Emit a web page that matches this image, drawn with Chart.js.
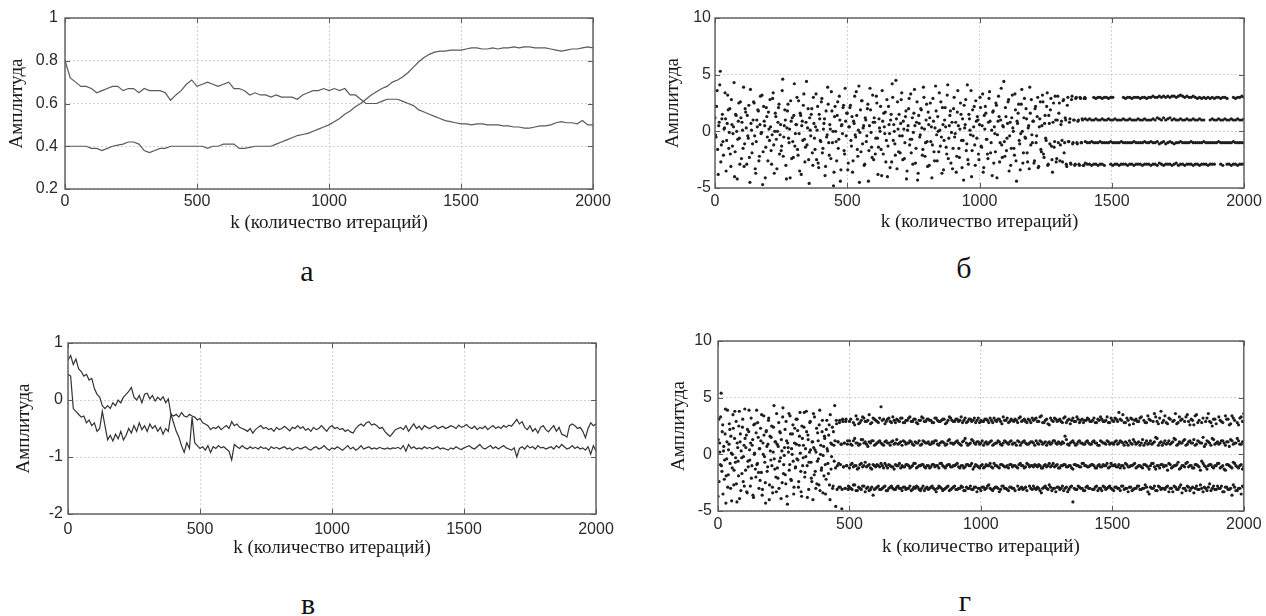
<!DOCTYPE html>
<html><head><meta charset="utf-8">
<script src="https://cdn.jsdelivr.net/npm/chart.js@4.4.0/dist/chart.umd.min.js"></script>
<style>
body{margin:0;width:1266px;height:616px;background:#fff;position:relative;overflow:hidden}
canvas{position:absolute}
.lbl{position:absolute;width:40px;text-align:center;font-family:"Liberation Serif","Times New Roman",serif;font-size:30px;line-height:30px;color:#111}
</style></head><body>
<canvas id="ca"></canvas><canvas id="cb"></canvas><canvas id="cv"></canvas><canvas id="cg"></canvas>
<div class="lbl" style="left:287px;top:256px">а</div>
<div class="lbl" style="left:944px;top:253px">б</div>
<div class="lbl" style="left:288px;top:589px">в</div>
<div class="lbl" style="left:945px;top:586px">г</div>
<script>
// ---------- tick labels ----------
const kTicks = [0, 500, 1000, 1500, 2000];
const yTicksA = [0.2, 0.4, 0.6, 0.8, 1];
const yTicksB = [-5, 0, 5, 10];
const yTicksV = [-2, -1, 0, 1];
const yTicksG = [-5, 0, 5, 10];
const xTitle = 'k (количество итераций)';
const yTitle = 'Амплитуда';

// ---------- panel а: two lines, k = 0..2000 step 20 ----------
const aStep = 20;
const aUpper = [0.80,0.72,0.70,0.68,0.68,0.67,0.65,0.66,0.67,0.68,
0.68,0.66,0.67,0.67,0.65,0.67,0.66,0.66,0.66,0.65,
0.615,0.64,0.66,0.69,0.71,0.68,0.69,0.70,0.69,0.68,
0.69,0.70,0.67,0.67,0.66,0.64,0.65,0.64,0.64,0.63,
0.64,0.63,0.63,0.63,0.62,0.64,0.65,0.66,0.66,0.67,
0.66,0.67,0.66,0.67,0.64,0.64,0.62,0.60,0.60,0.60,
0.61,0.62,0.62,0.62,0.61,0.60,0.59,0.57,0.56,0.55,
0.54,0.53,0.52,0.515,0.51,0.505,0.505,0.50,0.505,0.505,
0.50,0.50,0.50,0.495,0.495,0.49,0.49,0.485,0.485,0.49,
0.495,0.495,0.50,0.51,0.515,0.51,0.51,0.505,0.52,0.50,
0.50];
const aLower = [0.40,0.40,0.40,0.40,0.40,0.39,0.39,0.38,0.39,0.40,
0.405,0.41,0.42,0.42,0.41,0.38,0.37,0.38,0.39,0.39,
0.40,0.40,0.40,0.40,0.40,0.40,0.40,0.39,0.40,0.40,
0.41,0.41,0.41,0.39,0.39,0.395,0.40,0.40,0.40,0.40,
0.41,0.42,0.43,0.44,0.45,0.455,0.46,0.47,0.48,0.49,
0.50,0.515,0.53,0.55,0.565,0.585,0.60,0.62,0.64,0.655,
0.67,0.68,0.70,0.71,0.725,0.745,0.77,0.795,0.815,0.83,
0.84,0.845,0.845,0.85,0.85,0.85,0.855,0.86,0.86,0.855,
0.855,0.86,0.855,0.86,0.86,0.865,0.86,0.865,0.865,0.86,
0.86,0.86,0.855,0.85,0.845,0.85,0.855,0.855,0.86,0.865,
0.86];

// ---------- panel в: two lines, k = 0..2000 step 10 ----------
const vStep = 10;
const vUpper = [0.70,0.78,0.62,0.72,0.55,0.50,0.42,0.45,0.35,0.38,
0.20,0.10,0.05,-0.10,-0.15,-0.10,-0.15,-0.05,-0.10,0.00,
-0.05,0.05,0.10,0.15,0.22,0.05,0.00,0.08,-0.05,0.10,
0.12,0.02,0.08,-0.02,0.05,0.00,0.06,-0.05,0.02,-0.25,
-0.28,-0.25,-0.30,-0.22,-0.28,-0.30,-0.25,-0.28,-0.30,-0.35,
-0.32,-0.40,-0.42,-0.45,-0.52,-0.48,-0.50,-0.46,-0.52,-0.48,
-0.45,-0.50,-0.38,-0.45,-0.42,-0.48,-0.50,-0.52,-0.55,-0.50,
-0.58,-0.52,-0.48,-0.45,-0.50,-0.48,-0.52,-0.50,-0.55,-0.48,
-0.52,-0.50,-0.46,-0.50,-0.54,-0.48,-0.50,-0.45,-0.50,-0.47,
-0.53,-0.50,-0.55,-0.48,-0.52,-0.50,-0.45,-0.50,-0.55,-0.48,
-0.45,-0.50,-0.48,-0.52,-0.50,-0.55,-0.52,-0.56,-0.58,-0.50,
-0.45,-0.42,-0.46,-0.40,-0.38,-0.44,-0.42,-0.45,-0.50,-0.48,
-0.55,-0.60,-0.64,-0.58,-0.52,-0.50,-0.48,-0.52,-0.45,-0.55,
-0.48,-0.42,-0.50,-0.46,-0.52,-0.45,-0.48,-0.50,-0.47,-0.45,
-0.50,-0.48,-0.46,-0.50,-0.48,-0.45,-0.47,-0.50,-0.44,-0.48,
-0.46,-0.43,-0.48,-0.50,-0.46,-0.52,-0.48,-0.50,-0.46,-0.52,
-0.48,-0.45,-0.50,-0.47,-0.50,-0.45,-0.48,-0.44,-0.46,-0.40,
-0.34,-0.42,-0.38,-0.48,-0.52,-0.45,-0.55,-0.50,-0.58,-0.48,
-0.45,-0.52,-0.56,-0.50,-0.45,-0.55,-0.48,-0.60,-0.62,-0.65,
-0.45,-0.42,-0.45,-0.50,-0.48,-0.55,-0.66,-0.50,-0.40,-0.45,
-0.42];
const vLower = [0.45,0.42,-0.15,-0.20,-0.25,-0.30,-0.28,-0.40,-0.35,-0.45,
-0.40,-0.55,-0.50,-0.20,-0.45,-0.70,-0.62,-0.72,-0.60,-0.68,
-0.55,-0.70,-0.62,-0.50,-0.58,-0.45,-0.55,-0.40,-0.52,-0.45,
-0.55,-0.42,-0.50,-0.45,-0.55,-0.48,-0.60,-0.50,-0.55,-0.25,
-0.40,-0.55,-0.65,-0.80,-0.92,-0.75,-0.85,-0.30,-0.75,-0.80,
-0.85,-0.82,-0.88,-0.80,-0.92,-0.82,-0.85,-0.80,-0.84,-0.82,
-0.86,-0.90,-1.05,-0.78,-0.82,-0.85,-0.80,-0.84,-0.86,-0.82,
-0.85,-0.83,-0.86,-0.82,-0.85,-0.84,-0.88,-0.82,-0.85,-0.83,
-0.86,-0.84,-0.82,-0.86,-0.84,-0.88,-0.85,-0.83,-0.86,-0.84,
-0.82,-0.86,-0.88,-0.84,-0.82,-0.86,-0.84,-0.80,-0.85,-0.88,
-0.84,-0.86,-0.82,-0.85,-0.88,-0.84,-0.80,-0.86,-0.83,-0.88,
-0.85,-0.80,-0.86,-0.84,-0.82,-0.86,-0.84,-0.86,-0.83,-0.85,
-0.86,-0.84,-0.86,-0.84,-0.85,-0.83,-0.86,-0.80,-0.90,-0.78,
-0.85,-0.82,-0.86,-0.84,-0.86,-0.82,-0.85,-0.83,-0.86,-0.84,
-0.82,-0.86,-0.84,-0.86,-0.88,-0.84,-0.86,-0.82,-0.85,-0.87,
-0.84,-0.82,-0.80,-0.84,-0.86,-0.82,-0.78,-0.84,-0.86,-0.83,
-0.80,-0.85,-0.82,-0.86,-0.83,-0.80,-0.84,-0.86,-0.88,-0.84,
-1.00,-0.85,-0.82,-0.86,-0.80,-0.84,-0.82,-0.86,-0.80,-0.84,
-0.83,-0.86,-0.84,-0.82,-0.86,-0.80,-0.84,-0.78,-0.82,-0.86,
-0.84,-0.80,-0.85,-0.82,-0.86,-0.84,-0.88,-0.82,-0.95,-0.80,
-0.90];

// ---------- panel б: scatter ----------
const bNoiseStep = 4;   // bNoise at k = 0,4,..; bNoise2 at k = 2,6,..
const bNoise = [1.2,-0.5,3.6,-3.8,0.8,5.3,-1.2,1.5,-2.1,0.3,1.1,-0.8,3.2,-1.5,2.0,-3.1,0.6,-0.2,4.3,-1.8,1.4,-4.2,0.9,-0.6,2.6,
-2.4,0.1,3.9,-1.1,1.7,-2.9,-0.4,2.3,-4.5,0.7,-1.9,1.0,2.5,-3.3,-0.9,0.4,1.8,-2.2,3.1,-0.1,-4.7,2.2,0.5,-1.4,1.3,
-2.6,0.2,2.8,-1.7,-0.3,3.4,-3.7,1.6,-0.7,0.0,2.1,-2.0,0.6,-1.3,4.6,-0.5,1.9,-3.0,0.3,2.4,-1.0,-4.1,0.9,1.2,-2.3,
4.2,-0.2,0.6,-1.6,2.7,-3.5,1.4,0.5,-0.8,3.3,-2.7,0.8,-1.2,2.0,-4.6,0.1,1.5,-1.9,3.0,-0.6,0.4,-2.5,2.2,-3.2,1.1,
-0.9,2.9,-1.5,0.7,-3.9,1.8,-0.3,2.4,-2.1,0.2,3.5,-1.0,-4.8,1.3,0.0,-2.6,2.6,-0.7,1.0,-3.4,0.6,2.1,-1.7,3.8,-0.4,
1.6,-2.8,0.4,2.3,-1.3,-3.6,0.9,3.1,-0.5,1.4,-2.2,4.0,-0.1,-1.8,2.7,0.3,-3.0,1.2,-0.9,2.0,-4.4,0.5,1.9,-1.4,3.2,
-2.5,0.8,-0.6,2.5,-3.8,1.1,0.0,-1.6,3.6,-2.0,0.4,1.7,-0.8,-4.0,2.2,-0.2,1.0,-2.7,3.0,0.6,-1.1,4.5,-3.3,0.2,1.5,
-1.9,2.8,-0.4,0.9,-2.4,1.3,-4.2,0.1,2.0,-1.2,3.3,-0.7,-2.9,1.6,0.5,-1.5,2.6,-3.7,0.7,-0.3,1.9,-2.1,3.9,0.2,-1.0,
2.4,-3.1,0.6,1.2,-0.9,-4.1,2.9,-1.8,0.3,1.8,-2.6,0.0,3.4,-1.3,-0.5,2.1,-3.4,1.0,0.4,-2.0,4.1,-0.6,1.4,-2.8,0.8,
-1.5,3.0,-0.2,-3.6,1.7,0.5,-2.3,2.5,-0.8,1.1,-4.3,0.3,2.8,-1.1,-2.5,1.5,0.1,3.6,-1.7,-0.4,2.2,-3.0,0.9,1.3,-2.0,
0.6,2.1,-1.4,3.3,-3.2,0.2,1.6,-0.7,-2.4,2.9,0.9,-1.0,-3.9,1.8,0.4,-1.8,2.3,-0.3,3.1,-2.7,1.0,-1.2,0.5,4.4,-2.2,
1.3,-0.6,2.6,-3.5,0.8,-1.5,3.2,0.0,-2.1,1.9,-4.4,0.7,2.4,-1.1,-0.2,3.7,-2.8,1.2,-0.5,2.0,-1.9,0.3,-3.3,1.6,2.8,
-1.0,0.9,-2.6,2.2,-0.4,3.0,-3.1,1.1,-1.6,0.5,2.6,-2.3,1.4,-0.8,3.4,-2.9,0.7,1.9,-1.3,-3.6,2.5,-0.9,1.0,-2.4,3.1,
1.6,-2.6,0.6,-0.8,2.7,-1.9,1.2,-2.9,2.3,-0.9,0.8,-2.8,2.8,-1.1,1.0,-3.0,2.9,-1.0,0.9,-2.9,3.0,-1.0,1.1,-3.0,2.9];
const bNoise2 = [-0.3,2.2,-1.6,0.5,4.1,-2.7,1.1,-0.9,0.2,3.4,-3.5,0.7,1.9,-0.1,-2.0,2.8,-1.3,0.4,-4.0,1.5,0.0,-0.7,2.5,-2.9,1.2,
0.8,-1.5,-3.1,2.0,0.3,1.4,-0.6,-2.3,3.7,0.1,-1.1,2.6,-0.4,-3.7,1.0,1.9,-2.6,0.6,-0.2,3.2,-1.8,0.9,-4.1,2.1,-0.5,
1.7,-0.8,0.4,-2.9,2.9,-1.2,0.0,1.3,-3.3,0.8,2.4,-0.3,-1.7,3.6,-2.2,0.5,1.0,-4.2,1.8,-0.6,0.2,2.7,-2.4,-0.9,1.4,
-1.3,0.6,3.0,-2.1,-0.2,1.6,-3.8,0.9,2.3,-0.7,-1.4,4.4,0.3,-2.5,1.2,-0.4,2.0,-3.0,0.7,-1.6,3.3,0.1,-2.8,1.5,-0.8,
2.6,-1.9,0.2,1.1,-3.1,-0.5,3.9,-1.0,0.6,-2.4,1.8,0.0,-3.6,2.2,-0.9,1.4,-1.5,3.1,-4.4,0.5,-0.2,2.3,-2.0,0.9,1.6,
-3.4,0.4,2.1,-0.8,1.3,-2.6,0.7,-0.3,3.5,-1.6,0.1,-4.5,1.9,2.7,-1.1,0.5,-2.9,1.0,-0.4,2.4,-1.7,3.8,-0.1,-2.3,0.8,
1.2,-2.0,3.1,-0.6,-1.4,0.3,2.2,-3.9,0.9,1.6,-0.2,-2.7,2.8,-1.3,0.6,-3.2,1.5,4.2,-0.8,0.0,-2.1,1.1,2.6,-1.8,-0.4,
0.7,3.4,-2.5,0.2,-1.0,1.8,-3.5,0.5,2.9,-0.7,-1.9,1.2,-0.1,3.7,-2.8,0.8,-4.3,1.4,-0.5,2.0,0.3,-1.6,3.0,-2.2,1.0,
-0.9,1.7,-3.0,2.5,0.4,-1.2,0.9,-2.6,4.0,-0.3,1.3,-1.8,0.1,2.6,-3.7,0.6,-0.8,2.1,-1.4,3.2,-2.4,0.5,1.8,-0.1,-3.3,
2.0,-0.5,0.8,-2.2,3.6,-1.5,0.2,1.5,-3.2,-0.8,2.3,0.6,-1.7,4.1,-2.9,1.1,-0.3,-4.0,1.9,0.4,-1.2,2.7,-0.6,1.0,-2.5,
3.0,-1.3,0.5,-3.6,1.4,2.2,-0.7,-2.0,0.8,3.5,-1.9,0.1,1.7,-2.8,-0.2,2.5,-4.1,0.9,1.3,-1.0,3.8,-2.3,0.4,-0.9,2.1,
-1.7,0.7,2.8,-0.4,-3.0,1.2,0.3,-1.5,3.3,-2.6,0.9,1.6,-0.8,-3.4,2.4,0.0,-1.9,2.9,-0.6,1.1,-2.7,0.5,3.9,-1.2,-0.3,
0.9,-2.8,2.0,-1.0,1.3,-3.2,0.4,2.6,-1.8,3.2,-2.0,0.7,-0.6,2.2,-3.0,1.4,-1.1,2.9,-2.5,0.8,-1.4,3.1,-2.7,1.0,-1.0,
2.5,-1.2,0.9,-2.7,2.8,-1.0,1.0,-3.1,3.0,-0.9,1.1,-2.9,3.1,-1.0,1.0,-2.9,3.0,-1.1,1.0,-3.0,2.9,-1.0,1.0,-3.0,3.0];
const bBandStart = 1400, bBandStep = 8;   // k = 1400..2000
const bBand3 = [2.9,null,null,null,3.0,2.9,3.0,3.0,2.9,3.0,
3.0,2.9,3.0,3.0,null,null,null,null,3.0,2.9,
3.0,3.0,2.9,3.0,3.0,3.0,2.9,3.0,3.0,2.9,
3.0,3.0,3.1,3.0,3.0,3.1,3.0,3.1,3.0,3.1,
3.0,3.1,3.1,3.0,3.1,3.2,3.1,3.0,3.1,3.0,
3.0,3.1,3.0,2.9,3.0,2.9,3.0,2.9,3.0,2.9,
3.0,2.9,3.0,3.0,2.9,3.0,3.0,2.9,null,null,
3.0,2.9,3.0,3.0,3.1,3.0];
const bBand1 = [1.1,1.0,1.1,1.0,1.0,1.1,1.0,1.0,1.1,1.0,
1.0,1.1,1.0,1.0,1.1,1.0,1.0,1.0,1.1,1.0,
1.0,1.1,1.0,1.0,1.0,1.1,1.0,1.0,1.1,1.0,
1.0,1.0,1.1,1.0,1.2,1.1,1.0,1.2,1.0,1.1,
1.2,1.0,1.1,1.0,1.0,1.1,1.0,1.0,1.1,1.0,
1.0,1.1,1.0,1.0,1.1,1.0,1.0,null,null,1.0,
1.1,1.0,1.0,1.1,1.0,1.0,1.1,1.0,1.0,1.1,
1.0,1.0,1.1,1.0,1.0,1.1];
const bBandM1 = [-0.9,-1.0,-1.0,-0.9,-1.0,-1.0,-1.0,-0.9,-1.0,-1.0,
-1.0,-1.0,-0.9,-1.0,-1.0,-1.0,-1.0,-0.9,-1.0,-1.0,
-1.0,-1.0,-1.0,-0.9,-1.0,-1.0,-1.0,-1.0,-0.9,-1.0,
-1.0,-0.9,-1.0,-1.0,-0.9,-1.1,-1.0,-0.9,-1.1,-1.0,
-0.9,-1.0,-1.1,-1.0,-1.0,-0.9,-1.0,-1.0,-1.0,-1.0,
-0.9,-1.0,-1.0,-1.0,-1.0,-1.0,-0.9,-1.0,-1.0,-1.0,
-1.0,-1.0,-1.0,-0.9,-1.0,-1.0,-1.0,-1.0,-1.0,-1.0,
-0.9,-1.0,-1.0,-1.0,-1.0,-1.0];
const bBandM3 = [-2.8,-2.9,-2.9,-3.0,-2.9,-2.9,-3.0,-2.9,-2.9,-3.0,
null,null,-2.9,-3.0,-2.9,-2.9,-3.0,-2.9,-2.9,-2.9,
-3.0,-2.9,-2.9,-3.0,-2.9,-2.9,-2.9,-3.0,-2.9,-2.9,
-2.9,-3.0,-2.9,-2.9,-3.0,-2.8,-2.9,-3.0,-2.9,-2.9,
-2.9,-3.0,-2.9,-2.8,-3.0,-2.9,-2.9,-3.0,-2.9,-2.9,
-2.9,-3.0,-2.9,-2.9,-3.0,-2.9,-2.9,-2.9,-3.0,-2.9,
-2.9,-2.9,null,null,-2.9,-3.0,null,-2.9,-2.9,-3.0,
-2.9,-2.9,-3.0,-2.9,-2.9,-2.9];

// ---------- panel г: scatter ----------
const gNoiseStep = 3;   // gNoise at k = 0,3,..; gNoise2 at k = 1,4,..
const gNoise = [-3.7,3.1,1.0,-0.9,5.4,-1.5,2.6,0.3,-2.2,1.8,-4.3,-0.4,3.9,-1.8,0.9,2.2,-3.0,0.1,-1.2,3.5,-2.7,1.4,-0.7,2.9,-4.2,
0.6,-1.9,3.8,1.1,-3.2,-0.3,2.4,-2.4,0.8,4.0,-1.4,1.7,-3.4,-0.6,2.0,0.4,-2.8,3.2,-1.0,1.3,-3.8,0.0,2.7,-2.0,3.9,
-0.8,1.5,-3.0,0.5,2.3,-1.6,-3.6,1.0,3.4,-0.2,-2.5,2.0,0.7,-1.1,3.0,-4.0,1.6,-0.5,2.5,-2.9,0.2,4.3,-1.3,1.1,-3.3,
0.9,-2.1,2.8,-0.6,1.9,-3.9,0.3,3.3,-1.7,-0.1,2.2,-2.6,1.2,-4.4,0.6,3.6,-0.9,1.8,-2.3,0.0,2.6,-3.5,1.0,-1.2,3.1,
-0.4,2.1,-2.9,0.8,3.7,-1.5,-3.7,1.4,-0.3,2.4,-2.0,0.5,3.8,-1.0,1.7,-3.1,0.2,2.9,-0.7,-2.4,1.1,3.6,-1.8,0.4,-3.0,
2.3,-0.6,1.2,-2.7,3.9,0.0,-1.4,2.0,-3.4,0.7,1.6,-0.9,-2.2,3.0,0.3,-1.7,2.6,-4.0,1.0,-0.2,2.4,-2.8,0.8,4.3,-1.2,
3.0,-3.1,1.1,-0.8,2.8,-2.9,0.9,-4.8,3.1,-1.1,1.0,-3.0,2.9,-1.0,0.9,-3.1];
const gNoise2 = [1.3,-2.4,0.2,3.3,-1.0,2.0,-3.5,0.7,-0.5,4.0,-1.9,1.1,-2.9,0.4,2.7,-0.8,1.6,-4.1,0.0,2.3,-1.4,3.8,-0.3,-2.6,1.0,
-0.6,2.5,-3.9,1.8,0.3,-1.7,3.1,-0.2,-2.8,1.4,0.6,-3.3,2.2,-1.1,3.9,-0.5,1.0,-2.1,0.8,-3.6,2.6,0.1,-1.3,1.9,-0.9,
2.8,-1.6,0.5,-2.3,1.2,3.5,-3.1,0.0,1.7,-0.7,-4.3,2.1,-1.5,0.9,3.2,-2.7,0.3,1.5,-1.0,-3.4,2.4,-0.4,1.1,-2.0,3.6,
-1.2,0.7,-3.0,2.0,-0.3,1.3,-2.5,4.1,-0.9,0.6,-1.8,2.9,-3.7,1.0,0.2,-1.4,3.4,-2.2,0.5,1.8,-0.6,-2.9,2.3,-1.1,0.9,
3.1,-0.5,-2.4,1.6,0.1,-3.3,2.5,-1.0,0.8,3.7,-1.6,-0.2,2.0,-3.8,1.3,-0.7,2.8,0.4,-2.1,1.1,-4.0,0.6,3.3,-1.5,0.2,
-2.6,1.9,-0.4,2.6,-3.2,0.8,-1.2,3.0,-0.1,-1.9,1.4,-3.5,2.2,0.5,-0.8,1.7,-2.7,3.5,-1.3,0.9,-3.0,2.0,-0.6,1.2,-4.6,
2.7,-1.0,1.1,-2.9,3.0,-0.9,0.9,-3.1,2.9,-1.1,1.0,-3.0,3.1,-1.0,1.2,-2.8];
const gBandStep = 10;   // *A arrays at k = 500..2000, *B arrays at k = 505..1995
const gBandStartA = 500, gBandStartB = 505;
const gBand3A = [2.9,null,2.6,3.1,2.8,3.3,2.9,3.0,2.7,3.2,
3.0,2.8,4.2,3.1,2.9,3.2,2.8,3.0,3.1,2.9,
3.2,2.8,3.0,3.3,2.9,3.1,2.7,3.0,3.2,2.9,
3.1,3.0,2.8,3.2,2.9,3.0,3.1,2.8,3.3,3.0,
2.9,3.1,3.0,2.8,3.2,2.9,3.1,3.0,2.8,3.2,
3.0,2.9,3.1,2.8,3.0,3.2,2.9,3.1,2.7,3.0,
3.2,2.9,3.0,3.1,2.8,3.3,3.0,2.9,3.1,2.8,
3.0,3.2,2.9,3.4,2.8,3.1,2.6,3.0,3.2,2.9,
3.1,2.8,3.3,3.0,2.7,3.2,2.9,3.1,3.0,2.8,
3.0,3.1,2.9,3.2,2.8,3.0,3.1,2.9,3.3,2.8,
3.0,3.2,2.9,3.1,3.5,2.8,3.0,3.2,2.7,3.1,
2.9,3.3,3.0,2.8,3.1,null,3.6,2.9,3.2,2.8,
3.4,2.7,3.1,2.9,3.6,2.8,3.0,null,3.3,2.9,
3.1,2.6,3.5,3.0,2.8,null,3.2,2.9,2.5,3.1,
null,3.0,2.8,3.4,3.1,2.7,3.2,null,2.6,3.3,
3.6];
const gBand3B = [3.1,2.8,3.4,2.7,3.0,3.2,2.9,3.5,2.8,3.1,
2.9,3.2,3.0,2.7,3.1,2.9,3.3,2.8,3.0,3.2,
2.8,3.0,3.2,2.9,3.1,2.8,3.0,3.3,2.9,3.1,
3.0,2.8,3.2,3.0,2.9,3.1,2.7,3.0,3.2,2.9,
3.1,2.9,3.3,3.0,2.8,3.1,2.9,3.2,3.0,2.8,
2.9,3.1,3.0,3.2,2.8,3.0,3.1,2.9,3.3,3.0,
2.8,3.1,2.9,3.0,3.2,2.9,3.1,2.8,3.0,3.2,
3.1,2.9,3.3,2.8,3.0,2.7,3.2,2.9,3.1,3.0,
2.9,3.2,2.8,3.1,3.0,2.9,3.3,2.8,3.1,3.0,
3.2,2.9,3.0,2.8,3.1,3.3,2.9,3.0,2.8,3.2,
2.9,3.1,3.7,3.0,2.8,3.2,2.6,3.1,3.0,2.9,
3.2,null,2.8,3.4,3.0,2.9,3.3,2.7,3.8,3.0,
2.8,3.2,null,3.0,2.7,3.3,3.1,2.9,3.5,2.6,
3.0,3.4,2.8,null,3.2,2.9,3.6,2.8,3.1,2.7,
3.3,2.9,null,3.1,2.6,3.4,3.0,2.8,3.2,2.9];
const gBand1A = [1.2,0.8,1.4,1.0,0.9,1.3,1.1,0.7,1.0,1.2,
0.9,1.1,1.0,0.8,1.2,1.0,1.1,0.9,1.3,1.0,
0.8,1.1,1.0,1.2,0.9,1.1,1.0,0.8,1.2,1.0,
1.1,0.9,1.0,1.2,0.8,1.1,1.0,0.9,1.3,1.0,
1.0,1.2,0.9,1.1,1.4,0.8,1.0,1.2,0.9,1.1,
1.0,0.8,1.1,1.0,1.2,0.9,1.0,1.1,0.8,1.2,
1.0,1.1,0.9,1.0,1.2,0.8,1.1,1.0,0.9,1.1,
1.0,1.2,0.9,1.1,1.0,0.8,1.1,1.0,1.2,0.9,
1.0,1.1,1.6,0.9,1.0,1.2,0.8,1.1,1.0,0.9,
1.1,1.0,0.9,1.2,1.0,0.8,1.1,1.0,1.2,0.9,
1.0,1.1,0.9,1.2,1.0,1.1,0.8,1.0,1.3,0.9,
1.1,1.0,0.8,1.2,1.0,0.9,1.1,1.4,1.0,0.8,
1.2,1.0,0.9,1.1,1.3,0.9,1.0,1.2,0.8,1.1,
1.0,1.3,0.9,1.1,1.0,0.7,1.2,1.0,1.4,0.9,
1.1,1.0,1.2,0.8,1.1,1.3,0.9,1.0,1.2,0.9,
1.1];
const gBand1B = [0.9,1.2,1.0,0.8,1.3,1.0,0.9,1.1,1.2,0.8,
1.0,1.2,0.9,1.1,1.0,0.8,1.2,1.0,0.9,1.1,
1.2,0.9,1.0,1.1,0.8,1.0,1.2,0.9,1.1,1.0,
0.9,1.1,1.2,0.9,1.0,1.1,0.8,1.2,1.0,0.9,
1.1,1.0,0.8,1.2,1.0,0.9,1.3,1.0,1.1,0.9,
1.2,1.0,0.9,1.1,0.8,1.0,1.2,0.9,1.0,1.1,
0.9,1.2,1.0,0.8,1.1,1.0,1.2,0.9,1.0,1.1,
0.8,1.0,1.2,0.9,1.1,1.0,0.9,1.2,1.0,1.1,
0.9,1.0,1.3,0.8,1.1,1.0,0.9,1.2,1.0,0.9,
1.2,0.9,1.1,1.0,0.8,1.2,1.0,0.9,1.1,1.0,
0.9,1.2,1.0,1.1,0.8,1.0,1.2,0.9,1.1,1.0,
0.8,1.3,1.0,0.9,1.2,1.0,1.5,0.8,1.1,1.0,
0.9,1.2,1.0,1.4,0.8,1.1,1.0,1.3,0.9,1.2,
1.0,0.8,1.2,1.0,1.5,0.9,1.1,0.8,1.3,1.0,
0.9,1.2,1.0,1.1,0.7,1.2,1.0,1.4,0.9,1.1];
const gBandM1A = [-1.2,-0.8,-1.0,-1.3,-0.9,-1.1,-0.7,-1.0,-1.2,-0.9,
-1.1,-1.0,-0.8,-1.2,-1.0,-0.9,-1.1,-1.3,-1.0,-0.8,
-1.0,-1.1,-0.9,-1.2,-1.0,-0.8,-1.1,-1.0,-0.9,-1.2,
-1.0,-1.1,-0.9,-1.0,-1.2,-0.8,-1.1,-1.0,-0.9,-1.1,
-1.0,-0.8,-1.2,-1.0,-1.1,-0.9,-1.0,-1.3,-0.9,-1.1,
-1.0,-1.2,-0.9,-1.0,-1.1,-0.8,-1.0,-1.2,-0.9,-1.1,
-1.0,-0.9,-1.1,-1.0,-1.2,-0.8,-1.0,-1.1,-0.9,-1.0,
-1.1,-1.0,-0.9,-1.2,-1.0,-1.1,-0.8,-1.0,-1.1,-0.9,
-1.2,-1.0,-0.9,-1.1,-1.0,-1.3,-0.9,-1.0,-1.1,-0.8,
-1.0,-1.1,-0.9,-1.0,-1.2,-0.9,-1.1,-1.0,-0.8,-1.1,
-1.0,-0.9,-1.1,-1.2,-1.0,-0.8,-1.1,-1.0,-0.9,-1.2,
-1.0,-1.1,-0.9,-1.0,-1.3,-0.8,-1.1,-1.0,-1.2,-0.9,
-1.0,-1.4,-0.9,-1.1,-1.0,-0.7,-1.2,-1.0,-0.8,-1.1,
-1.0,-1.2,-0.9,-1.1,-0.6,-1.0,-1.3,-0.9,-1.1,-1.0,
-0.8,-1.2,-1.0,-1.4,-0.9,-1.1,-0.7,-1.0,-1.2,-0.9,
-1.1];
const gBandM1B = [-0.9,-1.1,-1.0,-1.2,-0.8,-1.0,-1.1,-0.9,-1.3,-1.0,
-0.9,-1.1,-1.0,-0.8,-1.2,-1.0,-1.1,-0.9,-1.0,-1.2,
-1.1,-0.9,-1.0,-1.1,-0.8,-1.2,-1.0,-0.9,-1.1,-1.0,
-1.2,-0.9,-1.1,-1.0,-0.8,-1.0,-1.2,-0.9,-1.1,-1.0,
-0.9,-1.1,-1.0,-1.2,-0.9,-1.0,-0.8,-1.1,-1.0,-1.2,
-0.9,-1.1,-1.0,-0.8,-1.2,-1.0,-1.1,-0.9,-1.0,-1.1,
-1.2,-0.9,-1.0,-1.1,-0.9,-1.0,-1.2,-0.8,-1.1,-1.0,
-0.9,-1.1,-1.0,-1.2,-0.9,-1.0,-1.1,-0.8,-1.0,-1.2,
-1.0,-0.9,-1.1,-1.0,-1.2,-0.9,-1.0,-1.1,-0.8,-1.0,
-1.1,-1.0,-0.9,-1.2,-1.0,-1.1,-0.9,-1.0,-1.2,-0.8,
-1.0,-1.1,-0.9,-1.0,-1.2,-0.9,-1.1,-1.0,-0.8,-1.1,
-1.0,-1.2,-0.9,-1.1,-1.0,-0.8,-1.3,-1.0,-0.9,-1.1,
-1.0,-0.8,-1.2,-1.0,-0.9,-1.3,-1.0,-1.1,-0.7,-1.0,
-1.2,-0.9,-1.0,-1.4,-0.8,-1.1,-1.0,-0.9,-1.2,-1.0,
-0.8,-1.1,-1.3,-0.9,-1.0,-1.2,-0.8,-1.1,-1.0,-1.3];
const gBandM3A = [-2.9,-3.1,-2.7,-3.2,-3.0,-2.8,-3.3,-2.9,-3.1,-3.6,
-3.0,-2.8,-3.1,-2.9,-3.2,-3.0,-2.8,-3.1,-2.9,-3.0,
-3.2,-2.9,-3.0,-2.8,-3.1,-3.0,-2.9,-3.2,-2.8,-3.0,
-3.1,-2.9,-3.0,-3.3,-2.8,-3.0,-3.1,-2.9,-3.2,-3.0,
-2.8,-3.1,-3.0,-2.9,-3.2,-3.0,-2.8,-3.1,-2.9,-3.0,
-3.2,-2.9,-3.0,-2.7,-3.1,-3.0,-2.9,-3.3,-2.8,-3.0,
-3.1,-2.9,-3.0,-3.2,-2.8,-3.0,-3.1,-2.9,null,-3.0,
-2.8,-3.1,-3.0,-3.4,-2.9,-3.0,-2.7,-3.2,-3.0,-2.9,
-3.1,-2.8,-3.0,-3.3,-2.9,-4.2,-3.1,-2.8,-3.0,-3.2,
-2.9,-3.0,null,-3.1,-2.8,-3.0,-3.2,-2.9,-3.0,-2.8,
-3.1,-2.9,-3.0,-3.2,-2.8,-3.0,-3.3,-2.9,-3.1,-3.0,
-2.8,-3.1,-3.0,-2.9,-3.5,-3.0,-2.8,-3.2,-2.9,-3.0,
-3.1,-2.8,-3.0,-3.3,-2.9,-3.1,-2.7,-3.0,-3.2,-2.9,
-3.0,-3.4,-2.8,-3.1,-3.0,-2.9,-3.2,-2.6,-3.0,-3.1,
-2.8,-3.0,-3.3,-2.9,-3.1,-3.0,-2.7,-3.2,-3.0,-3.5,
-2.9];
const gBandM3B = [-3.0,-2.7,-3.2,-2.9,-3.1,-2.8,-3.0,-3.2,-2.9,-3.1,
-2.9,-3.1,-3.0,-2.8,-3.2,-2.9,-3.0,-3.1,-2.8,-3.0,
-2.9,-3.1,-3.0,-3.2,-2.9,-2.8,-3.1,-3.0,-3.2,-2.9,
-3.0,-2.8,-3.1,-3.0,-2.9,-3.2,-3.0,-2.8,-3.1,-2.9,
-3.1,-3.0,-2.8,-3.2,-2.9,-3.0,-3.1,-2.9,-3.3,-3.0,
-2.9,-3.1,-2.8,-3.0,-3.2,-2.9,-3.0,-3.1,-2.8,-3.0,
-3.2,-2.9,-3.0,null,-3.1,-2.9,-3.0,-3.2,-2.8,-3.1,
-3.0,-2.9,-3.2,-3.0,-2.8,-3.1,-2.9,-3.0,-3.3,-2.9,
-3.0,-3.2,-2.9,-3.1,-2.8,-3.0,-3.1,-2.9,-3.0,-3.2,
-2.8,-3.0,-3.1,-2.9,-3.2,-3.0,-2.8,-3.1,-2.9,-3.0,
-3.2,-2.9,-3.0,-2.8,-3.1,-3.0,-2.9,-3.2,-3.0,-2.8,
-3.1,-3.0,-2.7,-3.3,-2.9,-3.0,-3.2,-2.8,-3.1,-3.0,
-2.9,-3.3,-3.0,-2.8,-3.1,-2.9,-3.4,-3.0,-2.8,-3.2,
-2.9,-3.0,-3.1,-2.7,-3.3,-3.0,-2.9,-3.2,-2.8,-3.1,
-3.0,-2.8,-3.3,-2.9,-3.1,-3.6,-2.9,-3.2,-3.0,-2.8];

// ---------- helpers ----------
function pts(vals, start, step) {
  const out = [];
  vals.forEach((v, i) => { if (v !== null) out.push({x: start + i * step, y: v}); });
  return out;
}
function lineDs(vals, step, color) {
  return {data: pts(vals, 0, step), showLine: true, pointRadius: 0, borderColor: color, borderWidth: 1.2, tension: 0};
}
function dotDs(vals, start, step) {
  return {data: pts(vals, start, step), showLine: false, pointRadius: 1.6, pointBorderWidth: 0, backgroundColor: '#1e1e1e', borderColor: '#1e1e1e'};
}

const framePlugin = {
  id: 'frame',
  afterDraw(chart) {
    const {ctx, chartArea: a, scales: {x, y}} = chart;
    ctx.save();
    ctx.strokeStyle = '#5a5a5a';
    ctx.lineWidth = 1.4;
    ctx.strokeRect(a.left, a.top, a.right - a.left, a.bottom - a.top);
    ctx.lineWidth = 1;
    ctx.beginPath();
    x.ticks.forEach(t => {
      const p = Math.round(x.getPixelForValue(t.value)) + 0.5;
      ctx.moveTo(p, a.bottom); ctx.lineTo(p, a.bottom - 5);
      ctx.moveTo(p, a.top); ctx.lineTo(p, a.top + 5);
    });
    y.ticks.forEach(t => {
      const p = Math.round(y.getPixelForValue(t.value)) + 0.5;
      ctx.moveTo(a.left, p); ctx.lineTo(a.left + 5, p);
      ctx.moveTo(a.right, p); ctx.lineTo(a.right - 5, p);
    });
    ctx.stroke();
    ctx.restore();
  }
};

const FONT_TICK = {family: '"Liberation Sans", Arial, sans-serif', size: 16};
const FONT_TITLE = {family: '"Liberation Serif", "Times New Roman", serif', size: 19};
const XH = 55;

function panel(id, box, area, yT, datasets, g) {
  const cv = document.getElementById(id);
  cv.width = box.w; cv.height = box.h;
  Object.assign(cv.style, {left: box.x + 'px', top: box.y + 'px', width: box.w + 'px', height: box.h + 'px'});
  const lhTick = FONT_TICK.size * 1.2, lhTitle = FONT_TITLE.size * 1.2;
  const gridOpt = {color: '#d2d2d2', lineWidth: 1, drawTicks: false};
  const borderOpt = {display: false, dash: [2, 2]};
  new Chart(cv, {
    type: 'scatter',
    data: {datasets},
    options: {
      responsive: false, animation: false, events: [],
      layout: {padding: {left: 0, top: area.T - box.y, right: box.x + box.w - area.R, bottom: box.y + box.h - area.B - XH}},
      plugins: {legend: {display: false}, tooltip: {enabled: false}},
      scales: {
        x: {
          type: 'linear', min: kTicks[0], max: kTicks[kTicks.length - 1],
          afterBuildTicks: s => { s.ticks = kTicks.map(v => ({value: v})); },
          afterFit: s => { s.height = XH; },
          grid: gridOpt, border: borderOpt,
          ticks: {font: FONT_TICK, color: '#2a2a2a', padding: g.xTickY - area.B - lhTick / 2, maxRotation: 0, autoSkip: false, callback: v => String(v)},
          title: {display: true, text: xTitle, font: FONT_TITLE, color: '#1a1a1a', padding: {top: 0, bottom: area.B + XH - lhTitle / 2 - g.xTitleY}}
        },
        y: {
          type: 'linear', min: yT[0], max: yT[yT.length - 1],
          afterBuildTicks: s => { s.ticks = yT.map(v => ({value: v})); },
          afterFit: s => { s.width = area.L - box.x; },
          grid: gridOpt, border: borderOpt,
          ticks: {font: FONT_TICK, color: '#2a2a2a', padding: area.L - g.yTickRight, callback: v => String(v)},
          title: {display: true, text: yTitle, font: FONT_TITLE, color: '#1a1a1a', padding: {top: g.yTitleX - box.x - lhTitle / 2, bottom: 0}}
        }
      }
    },
    plugins: [framePlugin]
  });
}

panel('ca', {x: 0, y: 0, w: 633, h: 250}, {L: 65, R: 593, T: 18, B: 189}, yTicksA,
  [lineDs(aUpper, aStep, '#5a5a5a'), lineDs(aLower, aStep, '#5a5a5a')],
  {yTitleX: 17.5, yTickRight: 58, xTickY: 202, xTitleY: 223});

panel('cb', {x: 633, y: 0, w: 633, h: 250}, {L: 715, R: 1244, T: 18, B: 188}, yTicksB,
  [dotDs(bNoise, 0, bNoiseStep), dotDs(bNoise2, 2, bNoiseStep),
   dotDs(bBand3, bBandStart, bBandStep), dotDs(bBand1, bBandStart, bBandStep),
   dotDs(bBandM1, bBandStart, bBandStep), dotDs(bBandM3, bBandStart, bBandStep)],
  {yTitleX: 673, yTickRight: 711, xTickY: 201.7, xTitleY: 221.7});

panel('cv', {x: 0, y: 300, w: 633, h: 270}, {L: 68, R: 596, T: 343, B: 514}, yTicksV,
  [lineDs(vUpper, vStep, '#333'), lineDs(vLower, vStep, '#333')],
  {yTitleX: 24, yTickRight: 63, xTickY: 530, xTitleY: 547.7});

panel('cg', {x: 633, y: 300, w: 633, h: 270}, {L: 718, R: 1246, T: 341, B: 511}, yTicksG,
  [dotDs(gNoise, 0, gNoiseStep), dotDs(gNoise2, 1, gNoiseStep),
   dotDs(gBand3A, gBandStartA, gBandStep), dotDs(gBand3B, gBandStartB, gBandStep),
   dotDs(gBand1A, gBandStartA, gBandStep), dotDs(gBand1B, gBandStartB, gBandStep),
   dotDs(gBandM1A, gBandStartA, gBandStep), dotDs(gBandM1B, gBandStartB, gBandStep),
   dotDs(gBandM3A, gBandStartA, gBandStep), dotDs(gBandM3B, gBandStartB, gBandStep)],
  {yTitleX: 679, yTickRight: 712, xTickY: 525, xTitleY: 546.7});
</script>
</body></html>
